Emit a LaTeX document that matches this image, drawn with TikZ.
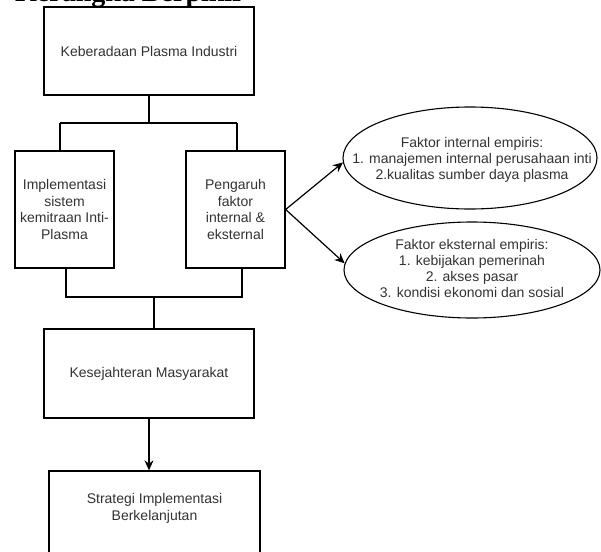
\documentclass[tikz,border=0pt]{standalone}
\usepackage{fontspec}
\setmainfont{Liberation Sans}
\newfontfamily\titlefont{Liberation Serif}
\usetikzlibrary{arrows.meta,shapes.geometric}
\definecolor{txt}{HTML}{333333}
\tikzset{
  x=1pt,y=-1pt,
  box/.style={draw=black,line width=1.3pt,fill=white,rectangle,inner sep=0pt,
    align=center,text=txt,font=\fontsize{14}{16.8}\selectfont},
  oval/.style={draw=black,line width=1.1pt,fill=white,ellipse,inner sep=0pt},
  ovaltext/.style={inner sep=0pt,align=center,text=txt,font=\fontsize{14}{16}\selectfont},
  bar/.style={draw=black,line width=2.4pt},
  arr/.style={draw=black,line width=1.2pt,-{Stealth[length=10pt,width=9pt]}},
}
\begin{document}
\begin{tikzpicture}
\useasboundingbox (0,0) rectangle (601,551);
\clip (0,0) rectangle (601,551);
\node[anchor=base west,font=\titlefont\bfseries\fontsize{28}{32}\selectfont,inner sep=0pt] (title) at (15,1.5) {Kerangka Berpikir};

\node[box,minimum width=210pt,minimum height=88pt] (k1) at (149,51) {Keberadaan Plasma Industri};
\node[box,minimum width=99pt,minimum height=117pt] (imp) at (64.5,209.5) {Implementasi\\sistem\\kemitraan Inti-\\Plasma};
\node[box,minimum width=99pt,minimum height=117pt] (peng) at (235.5,209.5) {Pengaruh\\faktor\\internal \&\\eksternal};
\node[box,minimum width=210pt,minimum height=89pt] (kes) at (149,373.5) {Kesejahteran Masyarakat};
\node[box,minimum width=211pt,minimum height=88pt,text depth=16pt] (strat) at (154.5,515) {Strategi Implementasi\\Berkelanjutan};

\node[oval,minimum width=254pt,minimum height=102pt] (e1) at (470,158) {};
\node[ovaltext] (e1t) at (472,160) {Faktor internal empiris:\\1. manajemen internal perusahaan inti\\2.kualitas sumber daya plasma};
\node[oval,minimum width=256pt,minimum height=96pt] (e2) at (472,270) {};
\node[ovaltext] (e2t) at (472,268) {Faktor eksternal empiris:\\1. kebijakan pemerinah\\2. akses pasar\\3. kondisi ekonomi dan sosial};

\coordinate (tl) at (60,123);
\coordinate (tr) at (237,123);
\draw[bar] (k1.south) -- (k1.south |- tl);
\draw[bar] (tl) -- (tr);
\draw[bar] (tl) -- (tl |- imp.north);
\draw[bar] (tr) -- (tr |- peng.north);

\coordinate (bl) at (66,297);
\coordinate (br) at (242,297);
\coordinate (bm) at (154,297);
\draw[bar] (bl |- imp.south) -- (bl) -- (br) -- (br |- peng.south);
\draw[bar] (bm) -- (bm |- kes.north);

\draw[arr] (kes.south) -- (strat.north -| kes.south);
\draw[arr] (peng.east) -- (e1.182);
\draw[arr] (peng.east) -- (e2.177);
\end{tikzpicture}
\end{document}
